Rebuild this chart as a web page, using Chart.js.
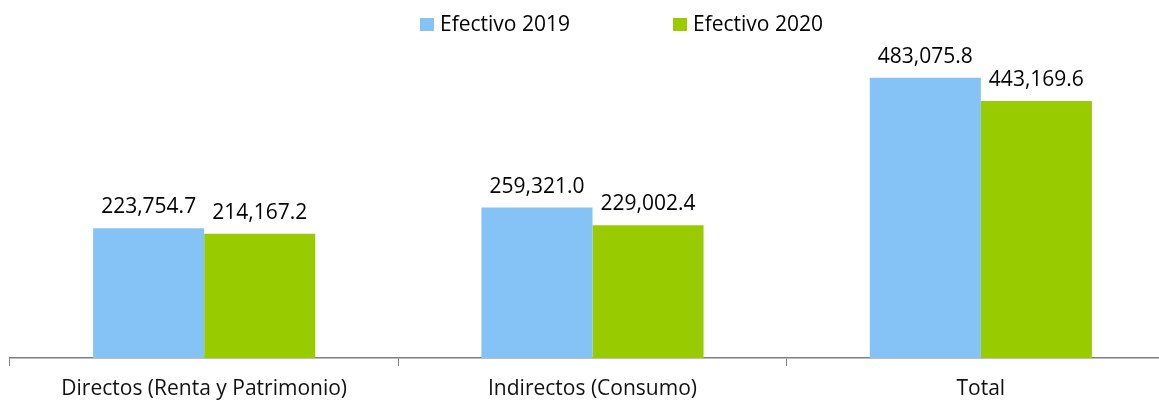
<!DOCTYPE html>
<html>
<head>
<meta charset="utf-8">
<script src="https://cdn.jsdelivr.net/npm/chart.js@4"></script>
<style>
    body { margin: 0; overflow: hidden; background: #fff; }
    #wrap { width: 1176px; height: 400px; position: relative; }
</style>
</head>
<body>
<div id="wrap"><canvas id="chartEfectivo"></canvas></div>
<script>
const categories = ['Directos (Renta y Patrimonio)', 'Indirectos (Consumo)', 'Total'];
const seriesNames = ['Efectivo 2019', 'Efectivo 2020'];
const values2019 = [223754.7, 259321.0, 483075.8];
const values2020 = [214167.2, 229002.4, 443169.6];

const FONT = '"Open Sans", sans-serif';

// value labels above each bar
const barLabels = {
    id: 'barLabels',
    afterDatasetsDraw(chart) {
        const ctx = chart.ctx;
        ctx.save();
        ctx.font = '21px ' + FONT;
        ctx.fillStyle = '#000';
        ctx.textAlign = 'center';
        ctx.textBaseline = 'alphabetic';
        chart.data.datasets.forEach((ds, i) => {
            chart.getDatasetMeta(i).data.forEach((bar, j) => {
                const txt = ds.data[j].toLocaleString('en-US', { minimumFractionDigits: 1, maximumFractionDigits: 1 });
                ctx.fillText(txt, bar.x, bar.y - 15);
            });
        });
        ctx.restore();
    }
};

// legend drawn by hand so the gap between items can be wide
const topLegend = {
    id: 'topLegend',
    afterDraw(chart) {
        const ctx = chart.ctx;
        ctx.save();
        ctx.font = '21px ' + FONT;
        ctx.textBaseline = 'alphabetic';
        const starts = [420, 673];
        chart.data.datasets.forEach((ds, i) => {
            ctx.fillStyle = ds.backgroundColor;
            ctx.fillRect(starts[i], 18, 14, 13);
            ctx.fillStyle = '#000';
            ctx.fillText(ds.label, starts[i] + 20, 31);
        });
        ctx.restore();
    }
};

new Chart(document.getElementById('chartEfectivo'), {
    type: 'bar',
    data: {
        labels: categories,
        datasets: [
            {
                label: seriesNames[0],
                data: values2019,
                backgroundColor: '#85C2F5',
                categoryPercentage: 0.572,
                barPercentage: 1
            },
            {
                label: seriesNames[1],
                data: values2020,
                backgroundColor: '#99CC00',
                categoryPercentage: 0.572,
                barPercentage: 1
            }
        ]
    },
    options: {
        responsive: true,
        maintainAspectRatio: false,
        animation: false,
        layout: { padding: { top: 43, left: 10, right: 1, bottom: 0 } },
        plugins: {
            legend: { display: false },
            tooltip: { enabled: false }
        },
        scales: {
            x: {
                afterFit(scale) { scale.height = 42; },
                grid: {
                    offset: true,
                    drawOnChartArea: false,
                    drawTicks: true,
                    tickLength: 8,
                    color: '#7f7f7f'
                },
                border: { color: '#7f7f7f', width: 1.5 },
                ticks: {
                    color: '#111',
                    padding: 10,
                    font: { family: FONT, size: 21 }
                }
            },
            y: {
                display: false,
                min: 0,
                max: 543000
            }
        }
    },
    plugins: [barLabels, topLegend]
});
</script>
</body>
</html>
